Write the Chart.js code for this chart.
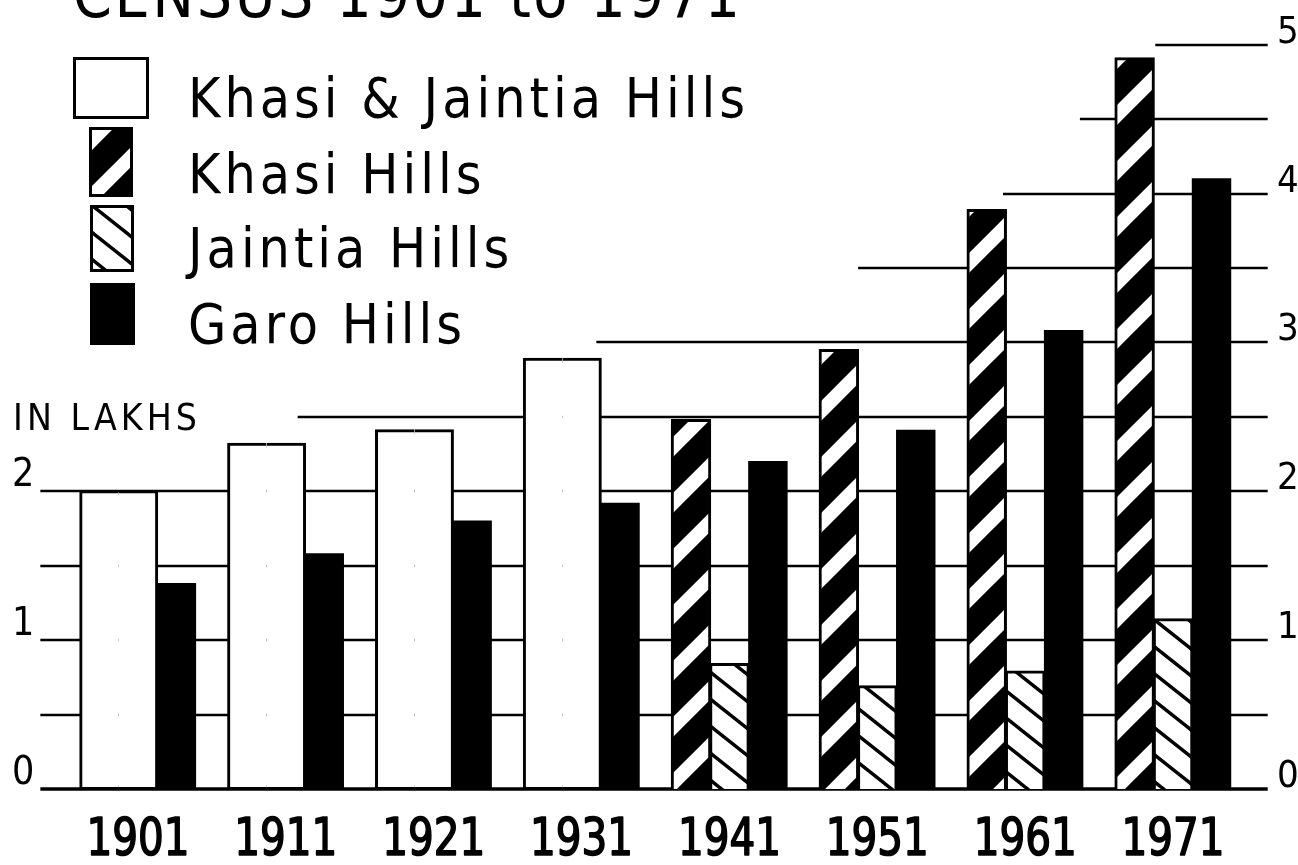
<!DOCTYPE html>
<html>
<head>
<meta charset="utf-8">
<script src="https://cdn.jsdelivr.net/npm/chart.js@4.4.1/dist/chart.umd.min.js"></script>
<style>
html,body{margin:0;padding:0;background:#fff;overflow:hidden}
#wrap{position:relative;width:1298px;height:865px}
</style>
</head>
<body>
<div id="wrap"><canvas id="c" width="1298" height="865"></canvas></div>
<script>
// ---------------- data ----------------
const years = ['1901', '1911', '1921', '1931', '1941', '1951', '1961', '1971'];
const khasiJaintia = [2.00, 2.32, 2.41, 2.89, null, null, null, null];
const khasi        = [null, null, null, null, 2.48, 2.95, 3.89, 4.91];
const jaintia      = [null, null, null, null, 0.84, 0.69, 0.79, 1.14];
const garo         = [1.38, 1.58, 1.80, 1.92, 2.20, 2.41, 3.08, 4.10];
const leftTicks  = [0, 1, 2];
const rightTicks = [0, 1, 2, 3, 4, 5];
const gridLevels = [0, 0.5, 1, 1.5, 2, 2.5, 3, 3.5, 4, 4.5, 5];
// category position (index units) where each horizontal rule begins
const gridStartAt = [-0.66, -0.66, -0.66, -0.66, -0.66, 1.08, 3.10, 4.87, 5.85, 6.37, 6.88];
const gridEndAt = 7.64;
const titleText = 'CENSUS 1901 to 1971';
const unitText = 'IN LAKHS';
const legendLabels = ['Khasi & Jaintia Hills', 'Khasi Hills', 'Jaintia Hills', 'Garo Hills'];

// ---------------- helpers ----------------
const canvas = document.getElementById('c');
const ctx = canvas.getContext('2d');
const FAMILY = '"Liberation Sans Narrow", "DejaVu Sans Condensed", "Liberation Sans", sans-serif';

function stripePattern(bg, fg, w, h, lineW, dir) {
  const c = document.createElement('canvas');
  c.width = w; c.height = h;
  const g = c.getContext('2d');
  g.fillStyle = bg; g.fillRect(0, 0, w, h);
  g.strokeStyle = fg; g.lineWidth = lineW;
  for (let k = -2; k <= 2; k++) {
    g.beginPath();
    if (dir === '/') { g.moveTo(-w, 2 * h + k * h); g.lineTo(2 * w, -h + k * h); }
    else { g.moveTo(-w, -h + k * h); g.lineTo(2 * w, 2 * h + k * h); }
    g.stroke();
  }
  return ctx.createPattern(c, 'repeat');
}
const khasiPat = stripePattern('#000', '#fff', 56, 56, 14, '/');
const jaintiaPat = stripePattern('#fff', '#000', 34, 27, 3.4, '\\');
const khasiLegendPat = stripePattern('#000', '#fff', 56, 56, 14, '/');
const jaintiaLegendPat = stripePattern('#fff', '#000', 34, 27, 3.4, '\\');

function measure(font, text) {
  ctx.save();
  ctx.font = font;
  ctx.letterSpacing = '0px';
  const w = ctx.measureText(text).width;
  ctx.restore();
  return w;
}
function spacingFor(font, text, target) {
  return (target - measure(font, text)) / (text.length - 1);
}

const isKJ = i => khasiJaintia[i] != null;
const slotA = years.map((_, i) => isKJ(i) ? khasiJaintia[i] : khasi[i]);
const slotB = years.map((_, i) => isKJ(i) ? khasiJaintia[i] : jaintia[i]);

// ---------------- plugins ----------------
const gridPlugin = {
  id: 'stairGrid',
  beforeDatasetsDraw(chart) {
    const { x, y } = chart.scales;
    const c = chart.ctx;
    c.save();
    c.strokeStyle = '#000';
    gridLevels.forEach((v, k) => {
      const py = Math.round(y.getPixelForValue(v));
      c.lineWidth = v === 0 ? 3.5 : 2.5;
      c.beginPath();
      c.moveTo(x.getPixelForValue(gridStartAt[k]), py);
      c.lineTo(x.getPixelForValue(gridEndAt), py);
      c.stroke();
    });
    c.restore();
  }
};

// category labels drawn at the category scale's own tick positions (narrowed glyphs)
const yearLabelPlugin = {
  id: 'yearLabels',
  afterDraw(chart) {
    const xs = chart.scales.x;
    const c = chart.ctx;
    const font = '52px ' + FAMILY;
    const squeeze = Math.min(1, 103 / measure(font, '1971'));
    c.save();
    c.font = font;
    c.fillStyle = '#000';
    c.strokeStyle = '#000';
    c.lineWidth = 1.6;
    c.lineJoin = 'round';
    c.textAlign = 'center';
    c.textBaseline = 'alphabetic';
    const baseY = xs.top + 66;
    years.forEach((label, i) => {
      const px = xs.getPixelForTick(i);
      c.save();
      c.translate(px, baseY);
      c.scale(squeeze, 1);
      c.fillText(label, 0, 0);
      c.strokeText(label, 0, 0);
      c.restore();
    });
    c.restore();
  }
};

const decorPlugin = {
  id: 'decor',
  afterDraw(chart) {
    const c = chart.ctx;
    c.save();
    c.fillStyle = '#000';
    c.textAlign = 'left';
    c.textBaseline = 'alphabetic';

    // title (cut off by the top edge as in the source)
    const tFont = '62px ' + FAMILY;
    c.font = tFont;
    c.letterSpacing = spacingFor(tFont, titleText, 667).toFixed(2) + 'px';
    c.fillText(titleText, 73, 17);

    // unit note
    const uFont = '37px ' + FAMILY;
    c.font = uFont;
    c.letterSpacing = spacingFor(uFont, unitText, 184).toFixed(2) + 'px';
    c.fillText(unitText, 13, 430);

    // legend
    const lFont = '55px ' + FAMILY;
    c.font = lFont;
    c.letterSpacing = spacingFor(lFont, legendLabels[0], 557).toFixed(2) + 'px';
    const boxes = [
      { b: [73, 57, 76, 62], base: 117, fill: '#fff' },
      { b: [89, 127, 44, 70], base: 193, fill: khasiLegendPat },
      { b: [90, 205, 44, 67], base: 267, fill: jaintiaLegendPat },
      { b: [90, 283, 45, 62], base: 343, fill: '#000' }
    ];
    boxes.forEach((it, i) => {
      const [bx, by, bw, bh] = it.b;
      if (typeof it.fill !== 'string') {
        it.fill.setTransform(new DOMMatrix().translate(bx + (i === 1 ? 6 : 4), by + (i === 1 ? 10 : 2)));
      }
      c.fillStyle = it.fill;
      c.fillRect(bx, by, bw, bh);
      c.strokeStyle = '#000';
      c.lineWidth = 3;
      c.strokeRect(bx + 1.5, by + 1.5, bw - 3, bh - 3);
      c.fillStyle = '#000';
      c.fillText(legendLabels[i], 188, it.base);
    });
    c.restore();
    c.letterSpacing = '0px';
  }
};

// ---------------- chart ----------------
new Chart(ctx, {
  type: 'bar',
  data: {
    labels: years,
    datasets: [
      {
        label: 'Khasi & Jaintia Hills / Khasi Hills',
        data: slotA,
        backgroundColor: c => isKJ(c.dataIndex) ? '#fff' : khasiPat,
        borderColor: '#000',
        borderWidth: 3,
        borderSkipped: c => isKJ(c.dataIndex) ? 'right' : 'start',
        inflateAmount: 1
      },
      {
        label: 'Khasi & Jaintia Hills / Jaintia Hills',
        data: slotB,
        backgroundColor: c => isKJ(c.dataIndex) ? '#fff' : jaintiaPat,
        borderColor: '#000',
        borderWidth: 3,
        borderSkipped: c => isKJ(c.dataIndex) ? 'left' : 'start',
        inflateAmount: 1
      },
      {
        label: 'Garo Hills',
        data: garo,
        backgroundColor: '#000',
        borderColor: '#000',
        borderWidth: 0,
        inflateAmount: 0.5
      }
    ]
  },
  options: {
    responsive: false,
    animation: false,
    devicePixelRatio: 1,
    events: [],
    layout: { padding: { left: 12, top: 40, right: 0, bottom: 0 } },
    categoryPercentage: 0.78,
    barPercentage: 1,
    plugins: {
      legend: { display: false },
      tooltip: { enabled: false },
      title: { display: false }
    },
    scales: {
      x: {
        type: 'category',
        offset: true,
        grid: { display: false },
        border: { display: false },
        ticks: { display: false, autoSkip: false },
        afterFit: s => { s.height = 76; }
      },
      y: {
        position: 'left',
        min: 0, max: 5,
        grid: { display: false },
        border: { display: false },
        afterBuildTicks: s => { s.ticks = leftTicks.map(v => ({ value: v })); },
        ticks: {
          crossAlign: 'far',
          font: { family: FAMILY, size: 39 },
          color: '#000',
          labelOffset: -15,
          padding: 0
        },
        afterFit: s => { s.width = 52; }
      },
      y2: {
        position: 'right',
        min: 0, max: 5,
        grid: { display: false },
        border: { display: false },
        afterBuildTicks: s => { s.ticks = rightTicks.map(v => ({ value: v })); },
        ticks: {
          font: { family: FAMILY, size: 38 },
          color: '#000',
          labelOffset: -12,
          padding: 22
        },
        afterFit: s => { s.width = 51; }
      }
    }
  },
  plugins: [gridPlugin, yearLabelPlugin, decorPlugin]
});
</script>
</body>
</html>
